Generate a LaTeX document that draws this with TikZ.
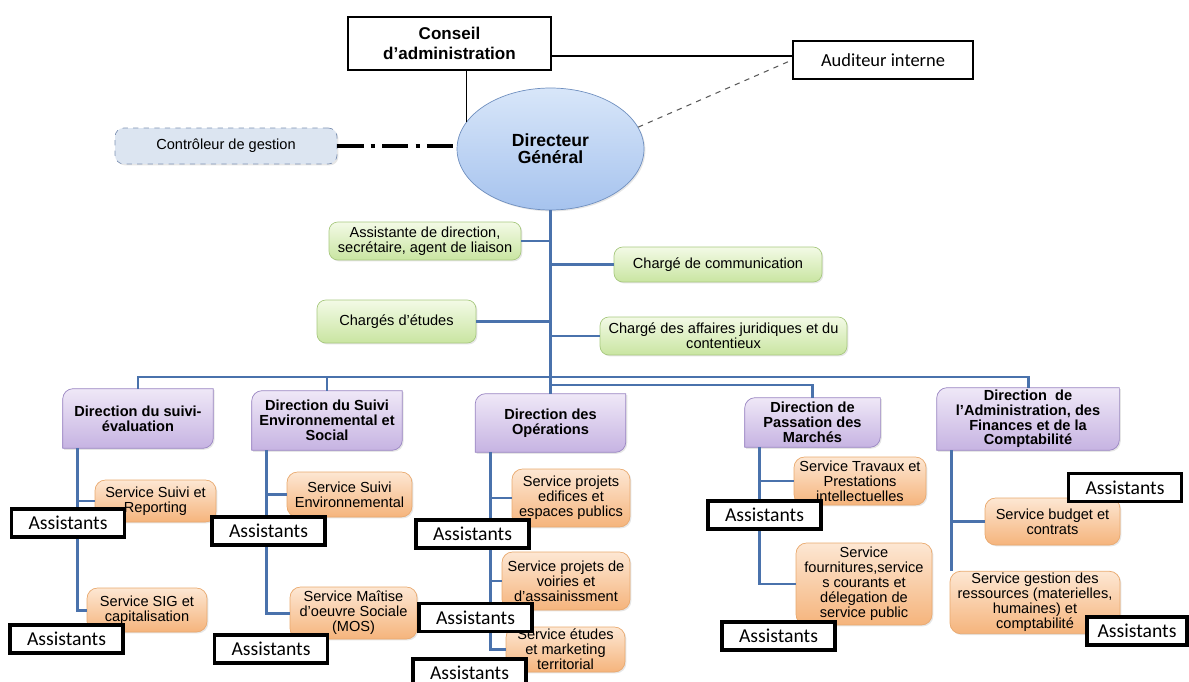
\documentclass[tikz,border=0pt]{standalone}
\usepackage{fontspec}
\setmainfont{Liberation Sans}
\newfontfamily\calibri{Carlito}
\usepackage{xcolor}
\usetikzlibrary{positioning, shapes.geometric, backgrounds, shadows}

\definecolor{lienbleu}{HTML}{4A72AC}
\definecolor{ellhaut}{HTML}{D8E6F9}
\definecolor{ellbas}{HTML}{A6C3EE}
\definecolor{ellbord}{HTML}{6F8FBF}
\definecolor{violhaut}{HTML}{EFE8F7}
\definecolor{violbas}{HTML}{C6B3E2}
\definecolor{violbord}{HTML}{9A86C2}
\definecolor{orhaut}{HTML}{FDE7D3}
\definecolor{orbas}{HTML}{F5B47C}
\definecolor{orbord}{HTML}{E9A96E}
\definecolor{verthaut}{HTML}{F3FAE6}
\definecolor{vertbas}{HTML}{C9E5A1}
\definecolor{vertbord}{HTML}{A8C97F}
\definecolor{cgfond}{HTML}{DCE5F1}
\definecolor{cgbord}{HTML}{7E92B3}

\begin{document}
\begin{tikzpicture}[x=0.02cm, y=0.02cm,
    font=\fontsize{8.3}{8.6}\selectfont,
    ombre/.style={drop shadow={shadow xshift=0.8pt, shadow yshift=-0.8pt, opacity=0.2}},
    cadre/.style={draw=black, line width=1.1pt, fill=white, align=center},
    assist/.style={draw=black, line width=2pt, fill=white, minimum width=2.26cm,
                   minimum height=0.56cm, inner sep=0pt, font=\calibri\fontsize{11.2}{12}\selectfont},
    conseiller/.style={draw=vertbord, top color=verthaut, bottom color=vertbas,
                       rounded corners=5pt, align=center, inner sep=1pt, ombre},
    service/.style={draw=orbord, top color=orhaut, bottom color=orbas,
                    rounded corners=6pt, align=center, inner sep=1pt, ombre},
    direction/.style={align=center, inner sep=1pt, font=\fontsize{8.3}{8.4}\selectfont\bfseries},
    lien/.style={draw=lienbleu, line width=1.7pt},
    noir/.style={draw=black, line width=1.1pt}
  ]
    \useasboundingbox (0,0) rectangle (1189,-682);

    % haut de l'organigramme
    \node[cadre, minimum width=4.06cm, minimum height=1.06cm,
          font=\fontsize{9.7}{11.4}\selectfont\bfseries] (ca) at (449.5,-43.5) {Conseil\\d’administration};
    \node[cadre, minimum width=3.6cm, minimum height=0.76cm,
          font=\calibri\fontsize{10.5}{12}\selectfont] (au) at (883,-60) {Auditeur interne};
    \node[ellipse, draw=ellbord, top color=ellhaut, bottom color=ellbas, ombre,
          minimum width=3.74cm, minimum height=2.44cm, inner sep=0pt, align=center,
          font=\fontsize{10}{9.5}\selectfont\bfseries] (dg) at (550.5,-149) {Directeur\\Général};
    \node[draw=cgbord, dashed, fill=cgfond, rounded corners=5pt, ombre,
          minimum width=4.44cm, minimum height=0.72cm] (cg) at (226,-146) {Contrôleur de gestion};

    % conseillers
    \node[conseiller, minimum width=3.84cm, minimum height=0.76cm] (asd) at (425,-241)
      {Assistante de direction,\\secrétaire, agent de liaison};
    \node[conseiller, minimum width=4.16cm, minimum height=0.7cm] (com) at (718,-264.5)
      {Chargé de communication};
    \node[conseiller, minimum width=3.18cm, minimum height=0.86cm] (etu) at (396.5,-321.5)
      {Chargés d'études};
    \node[conseiller, minimum width=4.94cm, minimum height=0.76cm] (jur) at (723.5,-336)
      {Chargé des affaires juridiques et du\\contentieux};

    % directions
    \node[direction, minimum width=3cm, minimum height=1.18cm] (dse) at (138,-418.5)
      {Direction du suivi-\\évaluation};
    \node[direction, minimum width=3cm, minimum height=1.18cm] (dses) at (327,-420.5)
      {Direction du Suivi\\Environnemental et\\Social};
    \node[direction, minimum width=3cm, minimum height=1.16cm] (ops) at (550.5,-423)
      {Direction des\\Opérations};
    \node[direction, minimum width=2.7cm, minimum height=0.98cm] (pm) at (812.5,-422.5)
      {Direction de\\Passation des\\Marchés};
    \node[direction, minimum width=3.64cm, minimum height=1.24cm] (dafc) at (1028,-419)
      {Direction\ \ de\\l'Administration, des\\Finances et de la\\Comptabilité};
    \begin{scope}[on background layer]
      \foreach \n in {dse,dses,ops,pm,dafc}
        \draw[draw=violbord, top color=violhaut, bottom color=violbas, ombre]
          (\n.south west) -- ([yshift=-6pt]\n.north west) arc[start angle=180, end angle=90, radius=6pt]
          -- (\n.north east) -- ([yshift=6pt]\n.south east) arc[start angle=0, end angle=-90, radius=6pt]
          -- cycle;
    \end{scope}

    % services
    \node[service, minimum width=2.42cm, minimum height=0.84cm] (srep) at (155.5,-501) {Service Suivi et\\Reporting};
    \node[service, minimum width=2.4cm, minimum height=0.88cm] (ssig) at (147,-610) {Service SIG et\\capitalisation};
    \node[service, minimum width=2.5cm, minimum height=0.9cm] (senv) at (349.5,-494.5) {Service Suivi\\Environnemental};
    \node[service, minimum width=2.54cm, minimum height=1.04cm] (smos) at (353.5,-613) {Service Maîtise\\d'oeuvre Sociale\\(MOS)};
    \node[service, minimum width=2.36cm, minimum height=1.16cm] (sedi) at (571,-498) {Service projets\\edifices et\\espaces publics};
    \node[service, minimum width=2.56cm, minimum height=1.16cm] (svoi) at (566,-581) {Service projets de\\voiries et\\d'assainissment};
    \node[service, minimum width=2.38cm, minimum height=0.9cm] (setu) at (565.5,-649.5) {Service études\\et marketing\\territorial};
    \node[service, minimum width=2.64cm, minimum height=0.96cm] (strav) at (860,-481) {Service Travaux et\\Prestations\\intellectuelles};
    \node[service, minimum width=2.72cm, minimum height=1.64cm] (sfour) at (864,-584) {Service\\fournitures,service\\s courants et\\délegation de\\service public};
    \node[service, minimum width=2.7cm, minimum height=0.94cm] (sbud) at (1052.5,-521.5) {Service budget et\\contrats};
    \node[service, minimum width=3.4cm, minimum height=1.06cm] (sges) at (1035,-602.5) {Service gestion des\\ressources (materielles,\\humaines) et\\comptabilité};

    % liaisons
    \draw[noir] (dg.162 |- ca.south) -- (dg.162);
    \draw[noir] ([yshift=0.08cm]au.west) -- ([yshift=0.08cm]au.west -| ca.east);
    \draw[gray!70!black, dashed, line width=0.6pt] (dg.14) -- (au.west);
    \draw[line width=2pt, dash pattern=on 15pt off 4pt on 2.5pt off 4pt] (cg.east) -- (cg.east -| dg.west);

    \draw[lien] (dg.south) -- (ops.north);
    \foreach \n in {asd,etu} \draw[lien] (\n.east) -- (\n.east -| dg.south);
    \foreach \n in {com,jur} \draw[lien] (\n.west) -- (\n.west -| dg.south);
    \coordinate (bus) at (550.5,-377);
    \coordinate (bus2) at (550.5,-385);
    \draw[lien] (dse.north) -- (dse.north |- bus) -- (dafc.north |- bus) -- (dafc.north);
    \draw[lien] (dses.north) -- (dses.north |- bus);
    \draw[lien] (bus2) -- (bus2 -| pm.north) -- (pm.north);
    \foreach \d/\s in {dse/srep, dse/ssig, dses/senv, dses/smos, ops/sedi, ops/svoi, ops/setu,
                       pm/strav, pm/sfour, dafc/sbud}
      \draw[lien] ([xshift=0.3cm]\d.south west) |- (\s.west);
    \draw[lien] ([xshift=0.3cm]dafc.south west) -- ([xshift=0.3cm]dafc.south west |- sges.north);

    % assistants
    \foreach \i/\x/\y in {1/68/523, 2/66.5/639, 3/268.5/531, 4/271/649, 5/472.5/534,
                          6/475.5/617.5, 7/469.5/673, 8/764.5/515, 9/778.5/636, 10/1125/487.5}
      \node[assist] (as\i) at (\x,-\y) {Assistants};
    \node[assist, minimum width=2cm] (as11) at (1137,-631) {Assistants};
  \end{tikzpicture}
\end{document}
